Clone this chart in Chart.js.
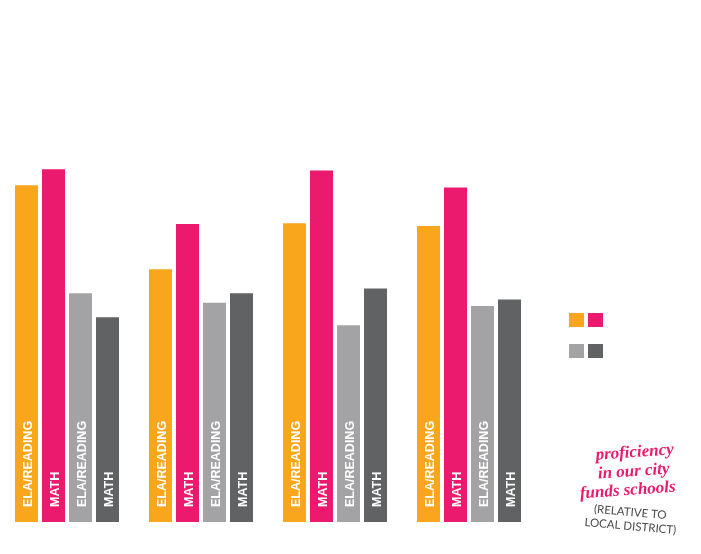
<!DOCTYPE html>
<html>
<head>
<meta charset="utf-8">
<script src="https://cdn.jsdelivr.net/npm/chart.js@4/dist/chart.umd.min.js"></script>
<style>
  html, body { margin: 0; padding: 0; background: #ffffff; }
  #wrap { width: 701px; height: 554px; position: relative; }
</style>
</head>
<body>
<div id="wrap"><canvas id="c" width="701" height="554"></canvas></div>
<script>
// ---- data ----
const categories = ["Group 1", "Group 2", "Group 3", "Group 4"];
const seriesNames = ["City ELA/Reading", "City Math", "District ELA/Reading", "District Math"];
const barLabels = ["ELA/READING", "MATH", "ELA/READING", "MATH"];
const cityEla = [84.2, 63.2, 74.7, 74.0];
const cityMath = [88.2, 74.5, 87.9, 83.6];
const districtEla = [57.2, 54.8, 49.2, 54.0];
const districtMath = [51.2, 57.2, 58.4, 55.6];
const yTicks = [0, 100];
const colors = ["#F9A61C", "#EC1A6E", "#A3A3A5", "#616264"];
const noteLines = ["proficiency", "in our city", "funds schools"];
const subLines = ["(RELATIVE TO", "LOCAL DISTRICT)"];

const seriesValues = [cityEla, cityMath, districtEla, districtMath];

const barLabelPlugin = {
  id: "barLabels",
  afterDatasetsDraw(chart) {
    const ctx = chart.ctx;
    ctx.save();
    ctx.fillStyle = "#ffffff";
    ctx.font = "bold 12.5px 'Liberation Sans', Arial, sans-serif";
    ctx.textAlign = "left";
    ctx.textBaseline = "alphabetic";
    chart.data.datasets.forEach((ds, di) => {
      const meta = chart.getDatasetMeta(di);
      meta.data.forEach((bar) => {
        ctx.save();
        ctx.translate(bar.x + 5.5, bar.base - 15);
        ctx.rotate(-Math.PI / 2);
        ctx.fillText(barLabels[di], 0, 0);
        ctx.restore();
      });
    });
    ctx.restore();
  }
};

const decorPlugin = {
  id: "decor",
  afterDraw(chart) {
    const ctx = chart.ctx;
    ctx.save();
    // legend squares
    const sq = [[569, 313], [588, 313], [569, 344], [588, 344]];
    sq.forEach((p, i) => {
      ctx.fillStyle = colors[i];
      ctx.fillRect(p[0], p[1], 15, 14);
    });
    // pink note
    const notePos = [[635, 457], [634, 476], [628, 495]];
    ctx.fillStyle = "#EC1A6E";
    ctx.font = "italic bold 17px 'Liberation Serif', serif";
    ctx.textAlign = "center";
    ctx.textBaseline = "alphabetic";
    noteLines.forEach((t, i) => {
      ctx.save();
      ctx.translate(notePos[i][0], notePos[i][1]);
      ctx.rotate(-4 * Math.PI / 180);
      ctx.fillText(t, 0, 0);
      ctx.restore();
    });
    // gray sub note
    const subPos = [[630, 516], [630, 530]];
    ctx.fillStyle = "#4a4a4a";
    ctx.font = "11.5px Lato, 'Open Sans', sans-serif";
    subLines.forEach((t, i) => {
      ctx.save();
      ctx.translate(subPos[i][0], subPos[i][1]);
      ctx.rotate(5 * Math.PI / 180);
      ctx.fillText(t, 0, 0);
      ctx.restore();
    });
    ctx.restore();
  }
};

new Chart(document.getElementById("c"), {
  type: "bar",
  data: {
    labels: categories,
    datasets: seriesNames.map((n, i) => ({
      label: n,
      data: seriesValues[i],
      backgroundColor: colors[i],
      borderWidth: 0,
      categoryPercentage: 0.806,
      barPercentage: 0.852
    }))
  },
  options: {
    responsive: false,
    animation: false,
    devicePixelRatio: 1,
    layout: { padding: { top: 122, bottom: 32, left: 0, right: 165 } },
    plugins: { legend: { display: false }, tooltip: { enabled: false } },
    scales: {
      x: { display: false, offset: true },
      y: { display: false, min: yTicks[0], max: yTicks[1] }
    }
  },
  plugins: [barLabelPlugin, decorPlugin]
});
</script>
</body>
</html>
